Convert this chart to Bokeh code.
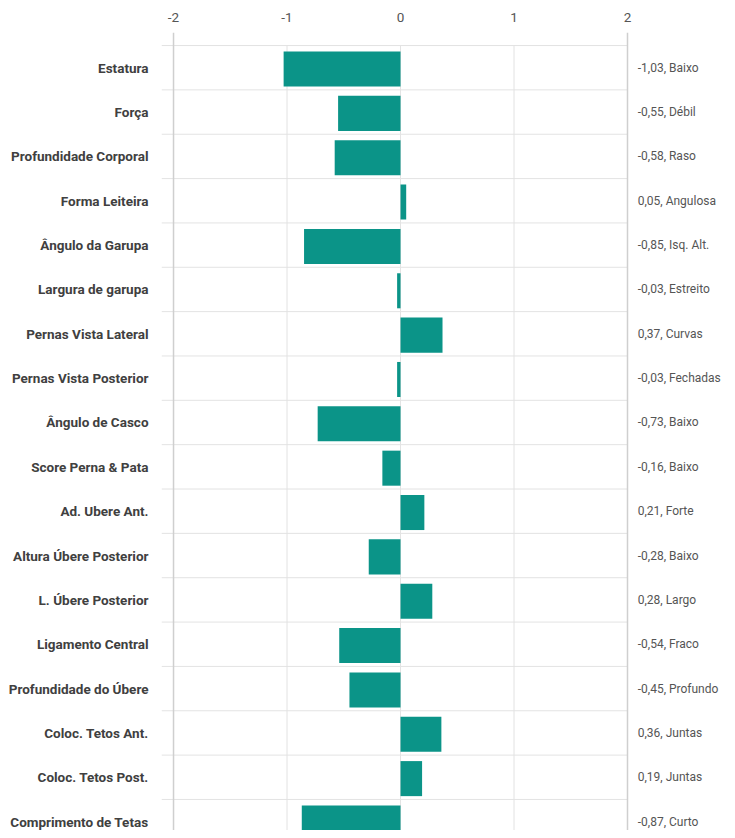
from bokeh.plotting import figure
from bokeh.models import Range1d, FixedTicker, Span, ColumnDataSource
from bokeh.core.properties import value
from bokeh.embed import file_html
from bokeh.resources import INLINE

traits = ["Estatura", "Força", "Profundidade Corporal", "Forma Leiteira",
          "Ângulo da Garupa", "Largura de garupa", "Pernas Vista Lateral",
          "Pernas Vista Posterior", "Ângulo de Casco", "Score Perna & Pata",
          "Ad. Ubere Ant.", "Altura Úbere Posterior", "L. Úbere Posterior",
          "Ligamento Central", "Profundidade do Úbere", "Coloc. Tetos Ant.",
          "Coloc. Tetos Post.", "Comprimento de Tetas"]
scores = [-1.03, -0.55, -0.58, 0.05, -0.85, -0.03, 0.37, -0.03, -0.73,
          -0.16, 0.21, -0.28, 0.28, -0.54, -0.45, 0.36, 0.19, -0.87]
descriptors = ["Baixo", "Débil", "Raso", "Angulosa", "Isq. Alt.", "Estreito",
               "Curvas", "Fechadas", "Baixo", "Baixo", "Forte", "Baixo",
               "Largo", "Fraco", "Profundo", "Juntas", "Juntas", "Curto"]
x_ticks = [-2, -1, 0, 1, 2]
x_tick_labels = ["-2", "-1", "0", "1", "2"]

n = len(traits)
idx = list(range(n))
right_labels = [f"{v:.2f}".replace(".", ",") + ", " + d for v, d in zip(scores, descriptors)]

FONT = "Roboto"
TEAL = "#0b9488"

p = figure(width=727, height=830, output_backend="svg", toolbar_location=None,
           x_range=Range1d(-2.106, 2.881), y_range=Range1d(17.2, -0.794),
           x_axis_location="above", min_border_left=161, min_border_right=0,
           min_border_top=32, min_border_bottom=0)
p.outline_line_color = None
p.xgrid.visible = False
p.ygrid.visible = False

# top axis
xa = p.xaxis[0]
xa.ticker = FixedTicker(ticks=x_ticks)
xa.major_label_overrides = dict(zip(x_ticks, x_tick_labels))
xa.axis_line_color = None
xa.major_tick_line_color = None
xa.minor_tick_line_color = None
xa.major_label_text_font = FONT
xa.major_label_text_font_size = "13.5px"
xa.major_label_text_color = "#555555"
xa.major_label_standoff = 5

# left axis with trait labels
ya = p.yaxis[0]
ya.ticker = FixedTicker(ticks=idx)
ya.major_label_overrides = {i: t for i, t in enumerate(traits)}
ya.axis_line_color = None
ya.major_tick_line_color = None
ya.minor_tick_line_color = None
ya.major_label_text_font = FONT
ya.major_label_text_font_style = "bold"
ya.major_label_text_font_size = "13.5px"
ya.major_label_text_color = "#404040"
ya.major_label_standoff = 7

# row separators
bounds = [i - 0.5 for i in range(n + 1)]
p.segment(x0=[p.x_range.start] * len(bounds), x1=[x_ticks[-1]] * len(bounds),
          y0=bounds, y1=bounds, line_color="#e3e3e3", line_width=1)
# inner vertical grid lines
inner = x_ticks[1:-1]
p.segment(x0=inner, x1=inner, y0=[-0.5] * len(inner), y1=[n + 1] * len(inner),
          line_color="#e3e3e3", line_width=1)
# outer vertical lines
for xv in (x_ticks[0], x_ticks[-1]):
    p.add_layout(Span(location=xv, dimension="height", line_color="#cfcfcf", line_width=1.5))

src = ColumnDataSource(dict(y=[i + 0.03 for i in idx], score=scores,
                            ty=idx, lab=right_labels, tx=[2.09] * n))
p.hbar(y="y", left=0, right="score", height=0.79, source=src,
       fill_color=TEAL, line_color=None)

p.text(x="tx", y="ty", text="lab", source=src, text_font=value(FONT),
       text_font_size="12px", text_color="#555555", text_align="left",
       text_baseline="middle")

open("out.html", "w").write(file_html(p, INLINE))
